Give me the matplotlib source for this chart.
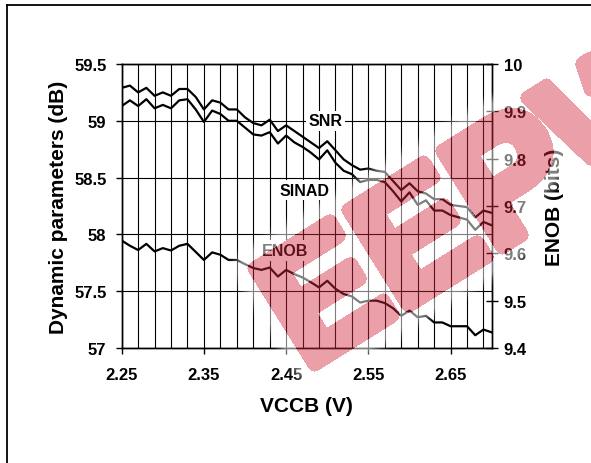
import numpy as np
import matplotlib
matplotlib.use('Agg')
import matplotlib.pyplot as plt
from matplotlib.lines import Line2D
from matplotlib.patches import PathPatch
from matplotlib.textpath import TextPath
from matplotlib.font_manager import FontProperties
from matplotlib.transforms import Affine2D
from matplotlib.ticker import FixedLocator, FormatStrFormatter

plt.rcParams['font.family'] = ['Liberation Sans', 'DejaVu Sans']
plt.rcParams['font.weight'] = 'bold'

# supply voltage sweep (V)
vccb = [2.25, 2.26, 2.27, 2.28, 2.29, 2.30, 2.31, 2.32, 2.33, 2.34,
        2.35, 2.36, 2.37, 2.38, 2.39, 2.40, 2.41, 2.42, 2.43, 2.44,
        2.45, 2.46, 2.47, 2.48, 2.49, 2.50, 2.51, 2.52, 2.53, 2.54,
        2.55, 2.56, 2.57, 2.58, 2.59, 2.60, 2.61, 2.62, 2.63, 2.64,
        2.65, 2.66, 2.67, 2.68, 2.69, 2.70]

# dB
snr = [59.29, 59.31, 59.25, 59.29, 59.22, 59.25, 59.22, 59.28, 59.28, 59.21,
       59.10, 59.18, 59.16, 59.10, 59.10, 59.03, 58.98, 58.96, 59.01, 58.91,
       58.96, 58.91, 58.86, 58.81, 58.76, 58.82, 58.74, 58.66, 58.61, 58.57,
       58.58, 58.56, 58.55, 58.47, 58.39, 58.45, 58.38, 58.36, 58.31, 58.31,
       58.26, 58.25, 58.24, 58.15, 58.21, 58.19]

sinad = [59.13, 59.18, 59.13, 59.19, 59.11, 59.14, 59.11, 59.18, 59.19, 59.10,
         58.99, 59.09, 59.06, 59.00, 59.00, 58.94, 58.88, 58.87, 58.90, 58.80,
         58.87, 58.81, 58.77, 58.72, 58.66, 58.74, 58.63, 58.56, 58.53, 58.46,
         58.48, 58.48, 58.46, 58.38, 58.29, 58.37, 58.26, 58.30, 58.21, 58.21,
         58.17, 58.15, 58.13, 58.04, 58.11, 58.08]

# bits
enob = [9.627, 9.616, 9.607, 9.620, 9.604, 9.611, 9.606, 9.616, 9.620, 9.603,
        9.586, 9.602, 9.597, 9.586, 9.586, 9.577, 9.569, 9.565, 9.570, 9.551,
        9.565, 9.556, 9.549, 9.539, 9.528, 9.542, 9.525, 9.514, 9.509, 9.496,
        9.500, 9.500, 9.495, 9.484, 9.468, 9.479, 9.465, 9.468, 9.454, 9.454,
        9.446, 9.446, 9.446, 9.427, 9.439, 9.433]

db_ticks = [57, 57.5, 58, 58.5, 59, 59.5]
bit_ticks = [9.4, 9.5, 9.6, 9.7, 9.8, 9.9, 10]
v_ticks = [2.25, 2.35, 2.45, 2.55, 2.65]


def dilate(mask, r):
    out = mask.copy()
    for dy in range(-r, r + 1):
        for dx in range(-r, r + 1):
            if dx * dx + dy * dy <= r * r:
                out = np.maximum(out, np.roll(np.roll(mask, dy, 0), dx, 1))
    return out


def box_blur(a, r):
    k = np.ones(2 * r + 1) / (2 * r + 1)
    a = np.apply_along_axis(lambda v: np.convolve(v, k, mode='same'), 0, a)
    return np.apply_along_axis(lambda v: np.convolve(v, k, mode='same'), 1, a)


def stamp(img, dpi, pad=40):
    # heavier letters, flat translucent red, soft white glow around them
    a = np.pad(img[..., 3], pad)
    letters = dilate((a > 0.5).astype(float), 7)
    glow = box_blur(dilate(letters, 12), 8)
    glow = np.clip(glow * 1.4, 0, 1) * (1 - letters)
    out = np.ones(letters.shape + (4,))
    out[..., 0] = np.where(letters > 0, 0.83, 1.0)
    out[..., 1] = np.where(letters > 0, 0.16, 1.0)
    out[..., 2] = np.where(letters > 0, 0.24, 1.0)
    out[..., 3] = letters * 0.45 + glow * 0.5
    return out, -pad, -pad


W, H = 591, 464
fig = plt.figure(figsize=(W / 100, H / 100), dpi=100, facecolor='white')
ax = fig.add_axes([121.7 / W, 1 - 349 / H, (491.7 - 121.7) / W, (349 - 65) / H])
ax2 = ax.twinx()

ax.set_xlim(2.25, 2.70)
ax.set_ylim(57, 59.5)
ax2.set_ylim(9.4, 10)

# grid: dB levels + every 20 mV
ax.yaxis.set_major_locator(FixedLocator(db_ticks))
ax.yaxis.set_major_formatter(FormatStrFormatter('%g'))
ax.xaxis.set_major_locator(FixedLocator(v_ticks))
ax.xaxis.set_minor_locator(FixedLocator(np.arange(2.27, 2.695, 0.02)))
ax.xaxis.set_major_formatter(FormatStrFormatter('%.2f'))
ax.grid(True, axis='y', color='black', lw=0.8)
ax.grid(True, axis='x', which='both', color='black', lw=0.8)
ax.set_axisbelow(True)

ax2.yaxis.set_major_locator(FixedLocator(bit_ticks))
ax2.yaxis.set_major_formatter(FormatStrFormatter('%g'))

ax.plot(vccb, snr, color='black', lw=1.6, zorder=3)
ax.plot(vccb, sinad, color='black', lw=1.6, zorder=3)
ax2.plot(vccb, enob, color='black', lw=1.6, zorder=3)

ax.tick_params(axis='y', direction='out', length=4, width=1, labelsize=12, pad=7)
ax.tick_params(axis='x', which='major', direction='out', length=4, width=1, labelsize=12, pad=10)
ax.tick_params(axis='x', which='minor', length=0)
ax2.tick_params(axis='y', direction='inout', length=9, width=1, labelsize=12, pad=4)
for a in (ax, ax2):
    for s in a.spines.values():
        s.set_color('black')
        s.set_linewidth(1)

ax.set_xlabel('VCCB (V)', fontsize=15, fontweight='bold', labelpad=10)
ax.set_ylabel('Dynamic parameters (dB)', fontsize=15, fontweight='bold', labelpad=4)
ax2.set_ylabel('ENOB (bits)', fontsize=15, fontweight='bold', labelpad=13)

box = dict(facecolor='white', edgecolor='none', pad=2)
ax.text(2.498, 59.0, 'SNR', fontsize=11.5, fontweight='bold', ha='center', va='center', bbox=box, zorder=2)
ax.text(2.472, 58.39, 'SINAD', fontsize=11.5, fontweight='bold', ha='center', va='center', bbox=box, zorder=2)
ax.text(2.449, 57.86, 'ENOB', fontsize=11.5, fontweight='bold', ha='center', va='center', bbox=box, zorder=2)

# outer frame
fig.add_artist(Line2D([7 / W, 7 / W], [0, 1 - 6 / H], color='black', lw=1.3, transform=fig.transFigure))
fig.add_artist(Line2D([7 / W, 1], [1 - 6 / H, 1 - 6 / H], color='black', lw=1.3, transform=fig.transFigure))

# site stamp across the plot (pixel coordinates)
glyphs = TextPath((0, 0), 'EEPW', size=1, prop=FontProperties(family='Liberation Sans', weight='bold'))
em = 166
place = Affine2D().scale(em, em).rotate_deg(32).translate(305, H - 372)
mark = PathPatch(glyphs, facecolor='#d42a3c', edgecolor='none', transform=place, zorder=10)
mark.set_agg_filter(stamp)
fig.add_artist(mark)

fig.savefig('out.png', dpi=100, facecolor='white')
